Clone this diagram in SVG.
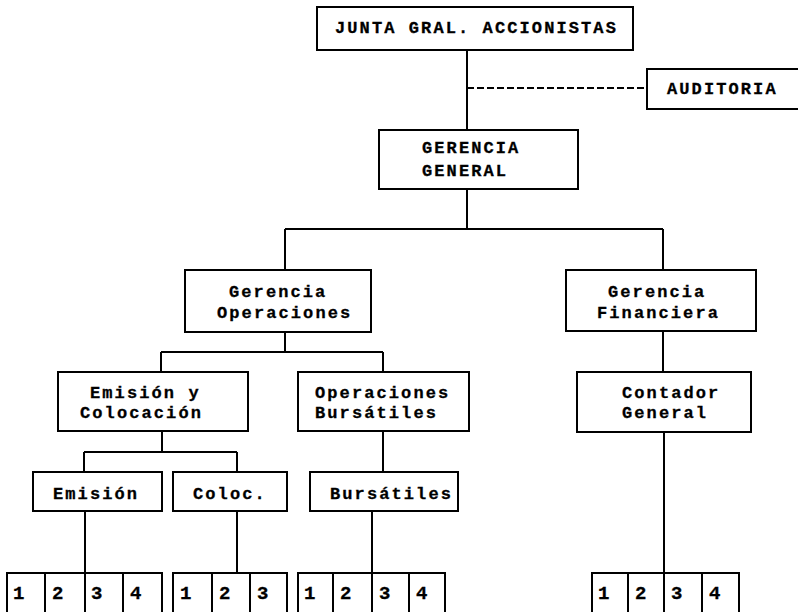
<svg xmlns="http://www.w3.org/2000/svg" width="798" height="612" viewBox="0 0 798 612">
<style>
.box{fill:#fff;stroke:#000;stroke-width:2}
.cell{fill:#fff;stroke:#000;stroke-width:2}
.ln{fill:none;stroke:#000;stroke-width:2}
.dash{fill:none;stroke:#000;stroke-width:2;stroke-dasharray:7,3}
text{font-family:"Liberation Mono","DejaVu Sans Mono",monospace;font-weight:bold;font-size:17px;letter-spacing:2.1px;fill:#000;stroke:#000;stroke-width:0.3}
.d{font-size:19px;letter-spacing:0}
</style>
<rect width="798" height="612" fill="#fff"/>
<g id="connectors">
<path class="ln" d="M467 50V130"/>
<path class="dash" d="M467 88H647"/>
<path class="ln" d="M467 189V229M285 229H663M285 229V270M663 229V270"/>
<path class="ln" d="M285 332V352M161 352H383M161 352V372M383 352V372"/>
<path class="ln" d="M663 331V372"/>
<path class="ln" d="M162 431V452M84 452H237M84 452V472M237 452V472"/>
<path class="ln" d="M383 431V472"/>
<path class="ln" d="M85 511V573M237 511V573M372 511V573M664 432V573"/>
</g>
<g id="junta"><rect class="box" x="317" y="7" width="316" height="43"/><text x="335" y="33">JUNTA GRAL. ACCIONISTAS</text></g>
<g id="auditoria"><rect class="box" x="647" y="69" width="155" height="40"/><text x="667" y="94">AUDITORIA</text></g>
<g id="gerencia-general"><rect class="box" x="379" y="130" width="199" height="59"/><text x="422" y="153">GERENCIA</text><text x="422" y="176">GENERAL</text></g>
<g id="gerencia-operaciones"><rect class="box" x="185" y="270" width="186" height="62"/><text x="229" y="297">Gerencia</text><text x="217" y="318">Operaciones</text></g>
<g id="gerencia-financiera"><rect class="box" x="566" y="270" width="190" height="61"/><text x="608" y="297">Gerencia</text><text x="597" y="318">Financiera</text></g>
<g id="emision-colocacion"><rect class="box" x="58" y="372" width="190" height="59"/><text x="90" y="398">Emisión y</text><text x="80" y="418">Colocación</text></g>
<g id="operaciones-bursatiles"><rect class="box" x="298" y="372" width="171" height="59"/><text x="315" y="398">Operaciones</text><text x="315" y="418">Bursátiles</text></g>
<g id="contador-general"><rect class="box" x="577" y="372" width="174" height="60"/><text x="622" y="398">Contador</text><text x="622" y="418">General</text></g>
<g id="emision"><rect class="box" x="33" y="472" width="129" height="39"/><text x="53" y="499">Emisión</text></g>
<g id="coloc"><rect class="box" x="173" y="472" width="114" height="39"/><text x="193" y="499">Coloc.</text></g>
<g id="bursatiles"><rect class="box" x="310" y="472" width="148" height="39"/><text x="330" y="499">Bursátiles</text></g>
<g id="emision-cells">
<rect class="cell" x="7" y="573" width="38" height="50"/><rect class="cell" x="45" y="573" width="40" height="50"/><rect class="cell" x="85" y="573" width="38" height="50"/><rect class="cell" x="123" y="573" width="39" height="50"/>
<text class="d" x="13" y="599">1</text><text class="d" x="52" y="599">2</text><text class="d" x="91" y="599">3</text><text class="d" x="130" y="599">4</text>
</g>
<g id="coloc-cells">
<rect class="cell" x="173" y="573" width="39" height="50"/><rect class="cell" x="212" y="573" width="38" height="50"/><rect class="cell" x="250" y="573" width="37" height="50"/>
<text class="d" x="180" y="599">1</text><text class="d" x="219" y="599">2</text><text class="d" x="257" y="599">3</text>
</g>
<g id="bursatiles-cells">
<rect class="cell" x="298" y="573" width="35" height="50"/><rect class="cell" x="333" y="573" width="39" height="50"/><rect class="cell" x="372" y="573" width="37" height="50"/><rect class="cell" x="409" y="573" width="36" height="50"/>
<text class="d" x="304" y="599">1</text><text class="d" x="340" y="599">2</text><text class="d" x="379" y="599">3</text><text class="d" x="416" y="599">4</text>
</g>
<g id="contador-cells">
<rect class="cell" x="592" y="573" width="36" height="50"/><rect class="cell" x="628" y="573" width="36" height="50"/><rect class="cell" x="664" y="573" width="38" height="50"/><rect class="cell" x="702" y="573" width="37" height="50"/>
<text class="d" x="598" y="599">1</text><text class="d" x="635" y="599">2</text><text class="d" x="671" y="599">3</text><text class="d" x="709" y="599">4</text>
</g>
</svg>
